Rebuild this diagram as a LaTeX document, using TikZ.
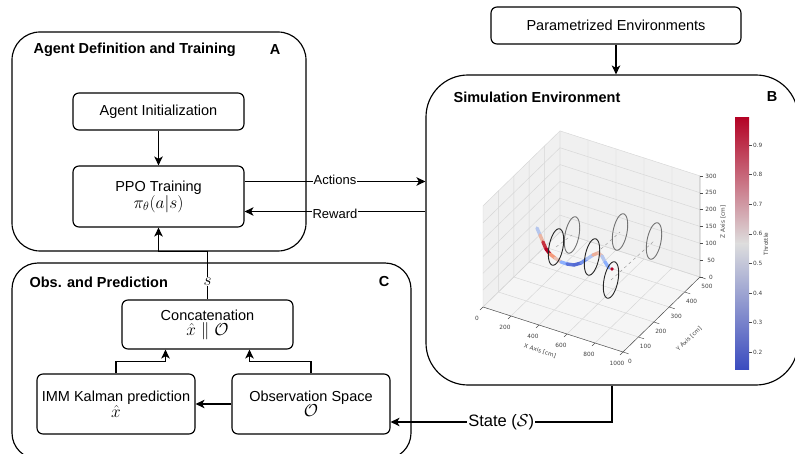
\documentclass[tikz,border=0pt]{standalone}
\usepackage{amsmath}
\usepackage{fontspec}
\setmainfont{Liberation Sans}
\newfontfamily\plotfont{DejaVu Sans}
\usetikzlibrary{arrows.meta, calc}

% coolwarm colours of the plot
\definecolor{cwBlue}{RGB}{59,76,192}
\definecolor{cwLb}{RGB}{141,176,254}
\definecolor{cwMid}{RGB}{221,221,221}
\definecolor{cwSal}{RGB}{244,154,123}
\definecolor{cwRed}{RGB}{180,4,38}

% math lines a bit larger than the text
\newcommand{\mathln}[1]{{\fontsize{17.5}{17}\selectfont$#1$}}

\begin{document}
\begin{tikzpicture}[x=1pt, y=-1pt,
  >={Stealth[length=9pt, width=8.5pt, inset=2.5pt]}, line width=1.15pt,
  font=\fontsize{14.5}{15}\selectfont,
  block/.style={draw, rounded corners=6pt, align=center, minimum width=171pt},
  panel/.style={draw, inner sep=0pt},
  paneltitle/.style={font=\bfseries\fontsize{14.5}{17}\selectfont, inner sep=0pt, anchor=west},
  lbl/.style={fill=white, inner sep=1pt, font=\fontsize{13}{15}\selectfont},
  ticklbl/.style={font=\plotfont\fontsize{5.8}{6}\selectfont, text=black!75, inner sep=0.5pt},
  grid3/.style={draw=black!16, line width=0.45pt},
  axis3/.style={draw=black!70, line width=0.45pt},
  gate/.style={line width=0.9pt},
  traj/.style={line width=3.4pt, line cap=round}]

  \useasboundingbox (0,0) rectangle (795,454);

  % panel A
  \node[panel, rounded corners=28pt, minimum width=294pt, minimum height=219pt] (panelA) at (159,141.5) {};
  \node[paneltitle] (titleA) at (33,50) {Agent Definition and Training};
  \node[paneltitle, anchor=center] (tagA) at (275,50) {A};
  \node[block, minimum height=37pt] (init) at (158.5,111.5) {Agent Initialization};
  \node[block, minimum height=61pt] (ppo) at (158.5,196.5) {PPO Training\\\mathln{\pi_\theta(a|s)}};

  % panel B
  \node[panel, rounded corners=42pt, minimum width=372pt, minimum height=310pt] (panelB) at (612,230) {};
  \node[paneltitle] (titleB) at (453,97) {Simulation Environment};
  \node[paneltitle, anchor=center] (tagB) at (772,97) {B};
  \node[block, minimum width=250pt, minimum height=37pt] (param) at (616,25.5) {Parametrized Environments};

  % panel C
  \node[panel, rounded corners=26pt, minimum width=399pt, minimum height=196pt] (panelC) at (211.5,361) {};
  \node[paneltitle] (titleC) at (29,282) {Obs. and Prediction};
  \node[paneltitle, anchor=center] (tagC) at (384,282) {C};
  \node[block, minimum height=49pt] (concat) at (207.5,324.5) {Concatenation\\\mathln{\hat{x}\parallel\mathcal{O}}};
  \node[block, minimum width=158pt, minimum height=60pt] (imm) at (116,404) {IMM Kalman prediction\\\mathln{\hat{x}}};
  \node[block, minimum width=158pt, minimum height=60pt] (obs) at (311,404) {Observation Space\\\mathln{\mathcal{O}}};

  % connectors
  \draw[->] (init) -- (ppo);
  \draw[->] ([yshift=15pt]ppo.east) -- ([yshift=15pt]ppo.east -| panelB.west)
    node[lbl, midway, yshift=2pt] {Actions};
  \draw[->] ([yshift=-15pt]ppo.east -| panelB.west) -- ([yshift=-15pt]ppo.east)
    node[lbl, midway, yshift=-2pt] {Reward};
  \draw[->] (param) -- (param |- panelB.north);
  \draw[->] (panelB.south) |- ([yshift=-18pt]obs.east)
    node[lbl, pos=0.75, font=\fontsize{16.5}{18}\selectfont] {State (\mathln{\mathcal{S}})};
  \draw[->] (obs) -- (imm);
  \draw[->] (imm.north) -- ++(0,-12) -| ([xshift=-42pt]concat.south);
  \draw[->] (obs.north) -- ++(0,-12) -| ([xshift=42pt]concat.south);
  \draw[->] (concat.north) -- node[lbl, pos=0.37] {\mathln{s}}
    (concat.north |- panelA.south) -| (ppo.south);

  % 3d plot: panes, grid, axes
  \begin{scope}[shift={(483,307)}, x={(0.14pt,-0.045pt)}, y={(0.154pt,0.15pt)}, z={(0pt,0.337pt)}]
    \fill[black!4] (0,0,0) -- (1000,0,0) -- (1000,500,0) -- (0,500,0) -- cycle;
    \fill[black!6] (0,0,0) -- (0,500,0) -- (0,500,300) -- (0,0,300) -- cycle;
    \fill[black!6] (0,500,0) -- (1000,500,0) -- (1000,500,300) -- (0,500,300) -- cycle;
    \foreach \gx in {0,200,...,1000}
      \draw[grid3] (\gx,0,0) -- (\gx,500,0) -- (\gx,500,300);
    \foreach \gy in {0,100,...,500}
      \draw[grid3] (0,\gy,300) -- (0,\gy,0) -- (1000,\gy,0);
    \foreach \gz in {0,50,...,300}
      \draw[grid3] (0,0,\gz) -- (0,500,\gz) -- (1000,500,\gz);
    \draw[axis3] (0,0,0) -- (1000,0,0) -- (1000,500,0) -- (1000,500,300);
    \foreach \gx in {0,200,...,1000} {
      \draw[axis3] (\gx,0,0) -- (\gx,-20,0);
      \node[ticklbl, xshift=-6pt, yshift=-11pt] at (\gx,0,0) {\gx};
    }
    \foreach \gy in {0,100,...,500} {
      \draw[axis3] (1000,\gy,0) -- (1040,\gy,0);
      \node[ticklbl, xshift=7pt, yshift=-9pt] at (1000,\gy,0) {\gy};
    }
    \foreach \gz in {0,50,...,300} {
      \draw[axis3] (1000,500,\gz) -- ++(3pt,0);
      \node[ticklbl, xshift=11pt] at (1000,500,\gz) {\gz};
    }
  \end{scope}
  \node[ticklbl, rotate=-18] (xlab) at (540,351) {X Axis [cm]};
  \node[ticklbl, rotate=44] (ylab) at (689,339) {Y Axis [cm]};
  \node[ticklbl, rotate=90] (zlab) at (723,222) {Z Axis [cm]};

  % gates and flown path
  \draw[dashed, black!40, line width=0.45pt] (556,247) -- (572,235) (592,257) -- (620,232) (611,280) -- (654,241);
  \foreach \gx/\gy in {572/235, 620/232, 654/241}
    \draw[gate, draw=black!55] plot[domain=0:360, samples=48, smooth] ({\gx+7.7*cos(\x)}, {\gy-7.1*cos(\x)-16.8*sin(\x)});
  \foreach \xa/\ya/\xb/\yb/\tc in {537/228/540/235/cwLb!50!cwMid, 540/235/543/242/cwSal!60!cwMid,
      543/242/546/249/cwRed!70!cwSal, 546/249/550/254/cwRed, 550/254/555/258/cwSal,
      555/258/561/262/cwSal!40!cwMid, 561/262/567/264/cwLb, 567/264/574/265/cwBlue!60!cwLb,
      574/265/581/263/cwBlue!70!cwLb, 581/263/587/259/cwLb!70!cwBlue, 587/259/593/255/cwLb!60!cwMid,
      593/255/598/253/cwSal!70!cwMid, 598/253/602/256/cwSal!50!cwMid, 602/256/605/262/cwLb!50!cwMid,
      605/262/609/268/cwLb}
    \draw[traj, draw=\tc] (\xa,\ya) -- (\xb,\yb);
  \fill[cwRed] (612,269) circle (1.8pt);
  \foreach \gx/\gy in {556/247, 592/257, 611/280}
    \draw[gate, draw=black!85] plot[domain=0:360, samples=48, smooth] ({\gx+7.7*cos(\x)}, {\gy-7.1*cos(\x)-16.8*sin(\x)});

  % colour bar
  \shade[top color=cwRed, middle color=cwSal, bottom color=cwMid] (735,118) rectangle (749,243.5);
  \shade[top color=cwMid, middle color=cwLb, bottom color=cwBlue] (735,243.5) rectangle (749,369);
  \foreach \cy/\cv in {145/0.9, 174.6/0.8, 204.2/0.7, 233.8/0.6, 263.4/0.5, 293/0.4, 322.6/0.3, 352.2/0.2} {
    \draw[axis3] (749,\cy) -- (752,\cy);
    \node[ticklbl, anchor=west] at (752,\cy) {\cv};
  }
  \node[ticklbl, rotate=90] (cblab) at (766,244) {Throttle};
\end{tikzpicture}
\end{document}
